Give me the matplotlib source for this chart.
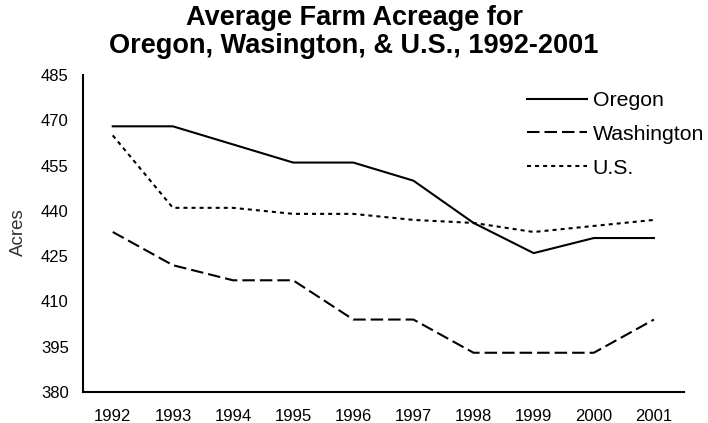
import matplotlib
matplotlib.use("Agg")
import matplotlib.pyplot as plt

plt.rcParams['font.family'] = ['Liberation Sans', 'DejaVu Sans']

years = ["1992", "1993", "1994", "1995", "1996", "1997", "1998", "1999", "2000", "2001"]
oregon = [468, 468, 462, 456, 456, 450, 436, 426, 431, 431]
washington = [433, 422, 417, 417, 404, 404, 393, 393, 393, 404]
us = [465, 441, 441, 439, 439, 437, 436, 433, 435, 437]
yticks = [380, 395, 410, 425, 440, 455, 470, 485]

W, H = 708, 423
fig = plt.figure(figsize=(W / 100, H / 100), dpi=100)
ax = fig.add_axes([82.7 / W, 1 - 392 / H, (684 - 82.7) / W, (392 - 75) / H])

x = list(range(len(years)))
lw = 1.5
ax.plot(x, oregon, color='black', lw=lw, linestyle='-', label='Oregon')
ax.plot(x, washington, color='black', lw=lw, linestyle=(0, (9.0 / lw, 3.6 / lw)), label='Washington')
ax.plot(x, us, color='black', lw=lw, linestyle=(0, (2.9 / lw, 2.9 / lw)), label='U.S.')

ax.set_xlim(-0.5, len(years) - 0.5)
ax.set_ylim(380, 485)
ax.set_xticks(x)
ax.set_xticklabels(years)
ax.set_yticks(yticks)
ax.tick_params(axis='both', length=0, labelsize=12)
ax.tick_params(axis='x', pad=12)
ax.tick_params(axis='y', pad=10)
for s in ['top', 'right']:
    ax.spines[s].set_visible(False)
for s in ['left', 'bottom']:
    ax.spines[s].set_linewidth(1.5)
    ax.spines[s].set_color('black')

fig.text(0.5, 1 - 32 / H, "Average Farm Acreage for\nOregon, Wasington, & U.S., 1992-2001",
         ha='center', va='center', fontsize=19.5, fontweight='bold', linespacing=1.12)
fig.text(18 / W, 1 - 232.5 / H, "Acres", rotation=90, ha='center', va='center',
         fontsize=13.5, color='#333333')

ax.legend(loc='upper left', bbox_to_anchor=(527 / W, 1 - 91 / H), bbox_transform=fig.transFigure,
          frameon=False, fontsize=15.3, handlelength=2.8, handletextpad=0.3,
          labelspacing=0.7, borderpad=0, borderaxespad=0)

fig.savefig("out.png", dpi=100)
